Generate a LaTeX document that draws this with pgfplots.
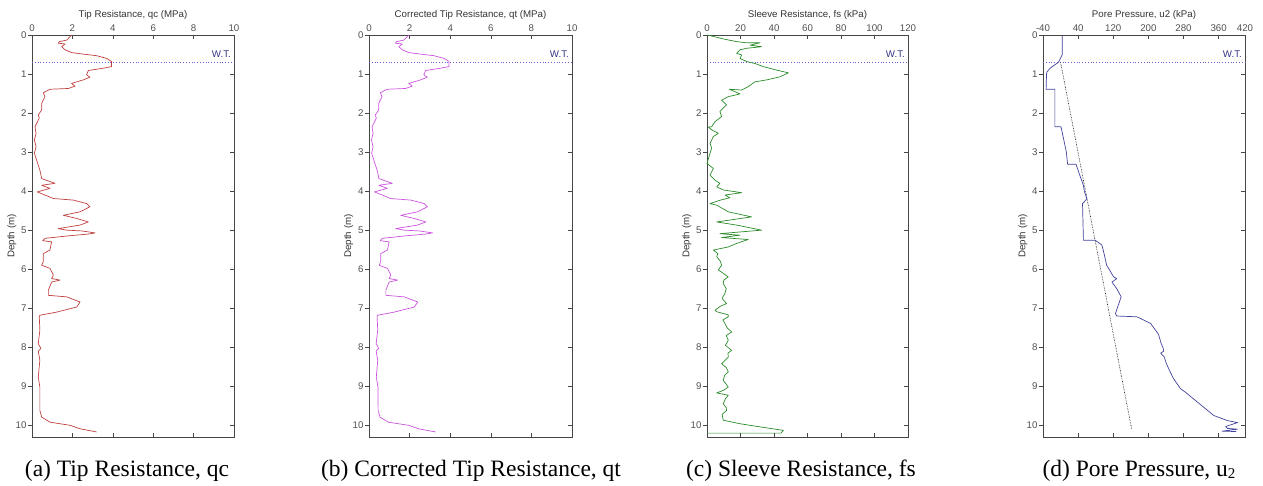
\documentclass[border=0pt]{standalone}
\usepackage{fontspec}
\setmainfont{Liberation Sans}
\newfontfamily\capfont{Liberation Serif}
\usepackage{pgfplots}
\pgfplotsset{compat=1.18}
\usepackage{pgfplotstable}

\definecolor{qccol}{RGB}{192,64,64}
\definecolor{qtcol}{RGB}{204,84,222}
\definecolor{fscol}{RGB}{44,140,44}
\definecolor{u2col}{RGB}{66,66,156}
\definecolor{wtcol}{RGB}{96,96,210}
\definecolor{wttext}{RGB}{52,52,132}
\definecolor{axgray}{RGB}{70,70,70}
\definecolor{labgray}{RGB}{80,80,80}

% depth (m) vs cone tip resistance qc (MPa)
\pgfplotstableread{
d v
0.00 1.96
0.13 1.72
0.17 1.35
0.21 1.30
0.23 1.64
0.30 1.47
0.38 1.64
0.45 1.96
0.49 2.54
0.53 3.20
0.60 3.70
0.68 3.94
0.81 3.94
0.85 3.53
0.91 2.79
1.02 2.70
1.08 2.87
1.15 2.54
1.24 1.96
1.31 2.13
1.37 1.80
1.39 0.89
1.48 0.56
1.58 0.64
1.75 0.48
1.92 0.48
2.05 0.31
2.13 0.36
2.35 0.15
2.52 0.20
2.69 0.12
2.86 0.20
3.03 0.12
3.21 0.23
3.46 0.39
3.68 0.48
3.80 1.14
3.85 0.48
3.93 0.89
4.02 0.26
4.19 1.06
4.23 2.05
4.32 2.71
4.40 2.87
4.53 2.38
4.62 1.55
4.70 2.21
4.79 2.79
4.87 2.38
4.96 1.30
5.00 1.72
5.02 2.46
5.07 3.12
5.10 2.79
5.15 1.72
5.21 0.64
5.27 0.53
5.30 0.97
5.51 0.89
5.60 0.56
5.81 0.56
5.90 0.48
5.98 0.89
6.15 1.06
6.24 0.97
6.28 1.39
6.33 0.97
6.54 0.81
6.67 0.81
6.71 1.72
6.84 2.38
6.97 2.21
7.10 1.22
7.18 0.39
7.22 0.36
7.56 0.39
7.91 0.31
8.03 0.44
8.10 0.31
8.33 0.39
8.76 0.31
9.02 0.39
9.62 0.39
9.79 0.48
9.92 0.89
10.00 1.88
10.09 2.38
10.17 3.20
}\qctable

% depth (m) vs corrected tip resistance qt (MPa)
\pgfplotstableread{
d v
0.00 1.96
0.13 1.72
0.17 1.35
0.21 1.30
0.23 1.64
0.30 1.47
0.38 1.64
0.45 1.96
0.49 2.54
0.53 3.20
0.60 3.70
0.68 3.94
0.81 3.94
0.85 3.53
0.91 2.79
1.02 2.70
1.08 2.87
1.15 2.54
1.24 1.96
1.31 2.13
1.37 1.80
1.39 0.89
1.48 0.56
1.58 0.64
1.75 0.48
1.92 0.48
2.05 0.31
2.13 0.36
2.35 0.15
2.52 0.20
2.69 0.12
2.86 0.20
3.03 0.13
3.21 0.24
3.46 0.40
3.68 0.49
3.80 1.15
3.85 0.49
3.93 0.90
4.02 0.27
4.19 1.07
4.23 2.06
4.32 2.72
4.40 2.88
4.53 2.39
4.62 1.56
4.70 2.22
4.79 2.80
4.87 2.39
4.96 1.31
5.00 1.73
5.02 2.47
5.07 3.13
5.10 2.80
5.15 1.73
5.21 0.65
5.27 0.55
5.30 0.99
5.51 0.91
5.60 0.58
5.81 0.58
5.90 0.50
5.98 0.91
6.15 1.08
6.24 0.99
6.28 1.41
6.33 0.99
6.54 0.83
6.67 0.83
6.71 1.74
6.84 2.40
6.97 2.23
7.10 1.24
7.18 0.42
7.22 0.40
7.56 0.43
7.91 0.35
8.03 0.48
8.10 0.35
8.33 0.43
8.76 0.36
9.02 0.44
9.62 0.45
9.79 0.54
9.92 0.95
10.00 1.95
10.09 2.45
10.17 3.28
}\qttable

% depth (m) vs sleeve friction fs (kPa)
\pgfplotstableread{
d v
0.00 0.2
0.04 4.2
0.10 9.6
0.17 17.7
0.20 23.7
0.20 31.6
0.26 25.7
0.30 32.6
0.34 23.7
0.38 19.7
0.47 17.7
0.51 20.7
0.60 19.7
0.68 23.7
0.73 28.6
0.81 33.6
0.90 41.6
0.97 48.6
1.07 43.6
1.15 35.6
1.20 28.6
1.32 24.7
1.41 20.7
1.39 13.3
1.51 19.7
1.58 12.7
1.67 8.7
1.79 11.7
1.96 7.7
2.09 8.7
2.22 4.8
2.35 2.8
2.36 0.8
2.43 2.8
2.52 6.8
2.60 3.8
2.78 1.8
2.90 2.8
3.03 1.8
3.29 0.0
3.42 3.8
3.59 1.8
3.72 4.8
3.80 7.7
3.89 5.8
3.97 9.7
4.04 20.7
4.10 10.7
4.17 13.7
4.23 8.0
4.32 1.8
4.36 5.8
4.53 12.7
4.66 26.6
4.79 5.8
4.87 17.7
5.00 32.6
5.09 7.7
5.13 19.7
5.19 8.7
5.24 24.6
5.34 17.7
5.43 12.7
5.51 3.8
5.60 6.5
5.68 5.8
5.80 8.0
5.90 8.7
6.02 6.8
6.10 9.5
6.20 12.7
6.28 10.0
6.37 9.7
6.50 11.5
6.62 10.7
6.75 9.0
6.88 11.7
6.95 8.0
7.05 4.8
7.09 5.8
7.17 12.7
7.22 12.7
7.30 9.5
7.39 10.7
7.50 12.0
7.61 14.7
7.70 11.5
7.82 12.7
7.95 11.0
8.08 14.7
8.15 12.5
8.25 12.7
8.35 10.5
8.42 8.7
8.52 11.5
8.63 12.7
8.72 10.5
8.85 9.7
8.95 11.5
9.02 12.7
9.10 10.0
9.17 5.8
9.23 12.7
9.32 11.0
9.45 9.7
9.55 11.5
9.62 11.7
9.72 9.0
9.87 9.7
9.96 19.7
10.04 31.6
10.13 45.6
10.20 44.0
10.20 0.0
}\fstable

% depth (m) vs pore pressure u2 (kPa)
\pgfplotstableread{
d v
0.00 4
0.50 4
0.70 -5
0.85 -24
0.95 -31
1.00 -32
1.39 -33
1.39 -13
2.35 -13
2.35 1
2.99 13
3.31 16
3.31 35
3.60 44
3.85 52
4.00 54
4.20 60
4.32 50
5.26 52
5.26 79
5.38 94
5.60 99
5.90 105
6.20 121
6.24 128
6.33 117
6.50 128
6.71 138
6.97 130
7.14 125
7.20 128
7.22 174
7.39 205
7.67 223
7.90 229
8.00 233
8.10 235
8.15 228
8.25 236
8.42 241
8.64 250
8.80 257
9.06 273
9.15 284
9.40 311
9.75 349
9.88 380
9.93 403
10.03 376
10.08 380
10.10 403
10.15 368
10.16 400
}\uutable

% hydrostatic pore pressure below the water table
\pgfplotstableread{
d v
0.70 0
10.10 162
}\hydrotable

\pgfplotsset{
  cpt/.style={
    scale only axis, height=402pt, anchor=north west,
    y dir=reverse, ymin=0, ymax=10.3, ytick={0,1,...,10},
    xticklabel pos=upper,
    xtick align=inside, ytick align=center,
    ytick style={xshift=-2pt},
    major tick length=4pt,
    every tick/.append style={axgray, line width=0.5pt},
    axis line style={axgray, line width=0.7pt},
    tick label style={font=\fontsize{9.7}{11}\selectfont, text=labgray},
    label style={font=\fontsize{9.7}{11}\selectfont, text=black!80},
    /pgf/number format/assume math mode=true,
    xlabel style={at={(axis description cs:0.5,1)}, anchor=center, yshift=20pt},
    ylabel style={at={(axis description cs:-0.1,0.5)}, anchor=center},
    ylabel={Depth (m)},
    clip=false,
  },
  wt/.style={wtcol, line width=0.8pt, dotted},
  curve/.style={line width=0.7pt, line join=round},
}

\begin{document}
\begin{tikzpicture}
\useasboundingbox (0pt,0pt) rectangle (1263pt,-486pt);

% (a) tip resistance
\begin{axis}[cpt, at={(32pt,-35pt)}, width=202pt,
  xmin=0, xmax=10, xtick={0,2,...,10},
  xlabel={Tip Resistance, qc (MPa)}]
  \addplot[wt] coordinates {(0,0.7) (10,0.7)};
  \addplot[qccol, curve] table[x=v, y=d] {\qctable};
  \node[anchor=east, inner sep=0pt, text=wttext, font=\fontsize{9.7}{11}\selectfont]
    at (axis cs:10,0.5) [xshift=-3pt] {W.T.};
\end{axis}

% (b) corrected tip resistance
\begin{axis}[cpt, at={(369pt,-35pt)}, width=203pt,
  xmin=0, xmax=10, xtick={0,2,...,10},
  xlabel={Corrected Tip Resistance, qt (MPa)}]
  \addplot[wt] coordinates {(0,0.7) (10,0.7)};
  \addplot[qtcol, curve] table[x=v, y=d] {\qttable};
  \node[anchor=east, inner sep=0pt, text=wttext, font=\fontsize{9.7}{11}\selectfont]
    at (axis cs:10,0.5) [xshift=-3pt] {W.T.};
\end{axis}

% (c) sleeve resistance
\begin{axis}[cpt, at={(707pt,-35pt)}, width=201pt,
  xmin=0, xmax=120, xtick={0,20,...,120},
  xlabel={Sleeve Resistance, fs (kPa)}]
  \addplot[wt] coordinates {(0,0.7) (120,0.7)};
  \addplot[fscol, curve] table[x=v, y=d] {\fstable};
  \node[anchor=east, inner sep=0pt, text=wttext, font=\fontsize{9.7}{11}\selectfont]
    at (axis cs:120,0.5) [xshift=-3pt] {W.T.};
\end{axis}

% (d) pore pressure
\begin{axis}[cpt, at={(1043pt,-35pt)}, width=202pt,
  xmin=-40, xmax=420, xtick={-40,40,120,200,280,360,420},
  xlabel={Pore Pressure, u2 (kPa)}]
  \addplot[wt] coordinates {(-40,0.7) (420,0.7)};
  \addplot[black, line width=0.6pt, densely dotted] table[x=v, y=d] {\hydrotable};
  \addplot[u2col, curve] table[x=v, y=d] {\uutable};
  \node[anchor=east, inner sep=0pt, text=wttext, font=\fontsize{9.7}{11}\selectfont]
    at (axis cs:420,0.5) [xshift=-3pt] {W.T.};
\end{axis}

% sub-figure captions
\begin{scope}[every node/.style={anchor=base, inner sep=0pt, font=\capfont\fontsize{23.5}{26}\selectfont}]
  \node at (127pt,-476pt) {(a) Tip Resistance, qc};
  \node at (471pt,-476pt) {(b) Corrected Tip Resistance, qt};
  \node at (801pt,-476pt) {(c) Sleeve Resistance, fs};
  \node at (1139pt,-476pt) {(d) Pore Pressure, u\raisebox{-0.12em}{\fontsize{15}{16}\selectfont 2}};
\end{scope}
\end{tikzpicture}
\end{document}
